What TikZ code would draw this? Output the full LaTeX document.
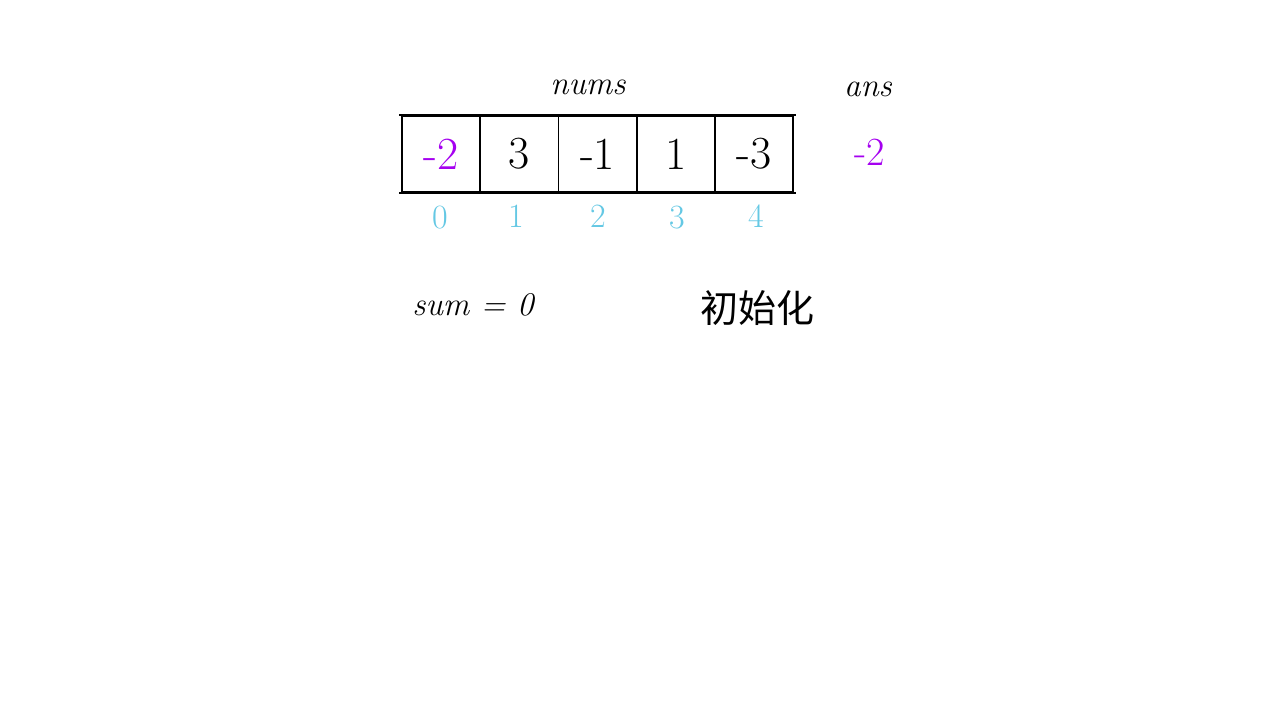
\documentclass[tikz,border=0pt]{standalone}
\usepackage{fontspec}
\newfontfamily\cjk{Noto Sans CJK SC}
\definecolor{valpurple}{RGB}{165,0,240}
\definecolor{idxcyan}{RGB}{100,200,228}
\tikzset{
	cell/.style={draw,line width=1.8pt,minimum width=78.2pt,minimum height=76pt,inner sep=0pt,font=\fontsize{46}{50}\selectfont},
	idx/.style={text=idxcyan,font=\fontsize{34}{38}\selectfont},
	hand/.style={font=\itshape\fontsize{33}{36}\selectfont}
}
\begin{document}
\begin{tikzpicture}[x=1pt,y=-1pt]
		\useasboundingbox[fill=white] (0,0) rectangle (1280,720);

		% array cells
		\node[cell] (c0) at (441.1,154) {\textcolor{valpurple}{-2}};
		\node[cell] (c1) at (519.3,154) {3};
		\node[cell] (c2) at (597.5,154) {-1};
		\node[cell] (c3) at (675.7,154) {1};
		\node[cell] (c4) at (753.9,154) {-3};
		% top and bottom edges run a little past the ends
		\draw[line width=1.8pt] ([xshift=-2pt]c0.north west) -- ([xshift=2pt]c4.north east);
		\draw[line width=1.8pt] ([xshift=-2pt]c0.south west) -- ([xshift=2pt]c4.south east);

		% label above
		\node[hand] (nums) at (588,87) {nums};

		% indices
		\node[idx] (i0) at (440,218) {0};
		\node[idx] (i1) at (516,216) {1};
		\node[idx] (i2) at (598,216) {2};
		\node[idx] (i3) at (677,218) {3};
		\node[idx] (i4) at (756,216) {4};

		% answer
		\node[hand] (ans) at (868,89) {ans};
		\node[text=valpurple,font=\fontsize{40}{44}\selectfont] (ansval) at (870,152) {-2};

		% state
		\node[hand] (sum) at (473,305) {sum = 0};
		\node[font=\cjk\fontsize{38}{42}\selectfont] (init) at (757,308) {初始化};

\end{tikzpicture}
\end{document}
